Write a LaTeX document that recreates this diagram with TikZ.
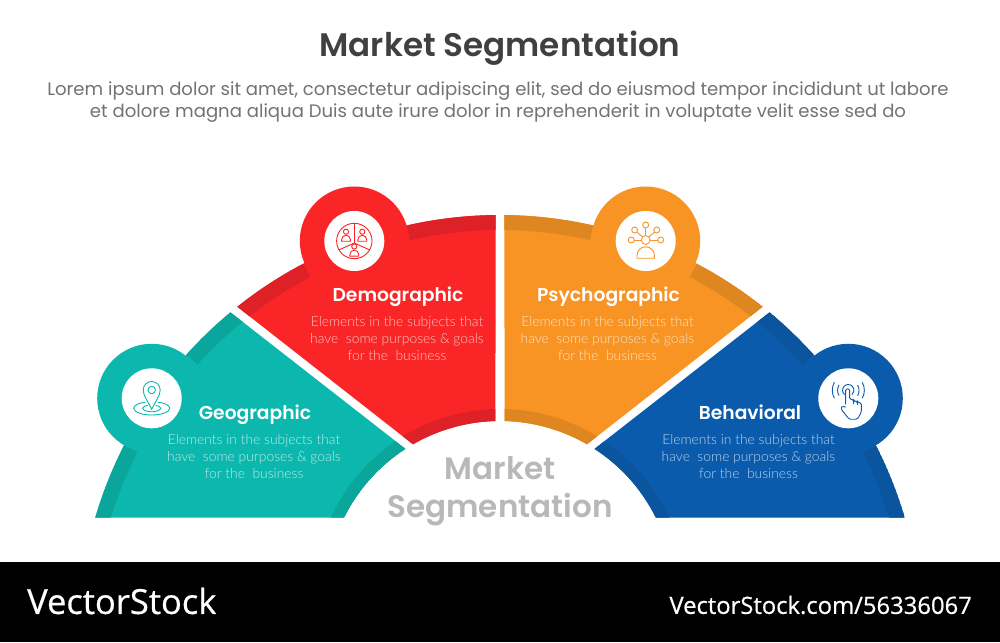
\documentclass[tikz,border=0pt]{standalone}
\usepackage{fontspec}
\usetikzlibrary{positioning, calc}
\setmainfont{Poppins}[BoldFont={Poppins SemiBold}]
\newfontfamily\latofont{Lato Light}
\newfontfamily\markfont{Open Sans}[FakeBold=0.6]
\definecolor{tealA}{HTML}{0CB8AD}
\definecolor{tealB}{HTML}{0AA69C}
\definecolor{redA}{HTML}{FA2526}
\definecolor{redB}{HTML}{DD2126}
\definecolor{orangeA}{HTML}{F79424}
\definecolor{orangeB}{HTML}{DE8620}
\definecolor{blueA}{HTML}{0A5BAC}
\definecolor{blueB}{HTML}{0A559E}
\newcommand{\sectorpath}[4]{($(O)+(#1:422pt)$) arc[start angle=#1, end angle=#2, radius=422pt] -- ($(I)+(#3:174pt)$) arc[start angle=#3, end angle=#4, radius=174pt] -- cycle}
\newcommand{\outerband}[3]{\draw[#1, line width=15pt] ($(O)+(#2:414.5pt)$) arc[start angle=#2, end angle=#3, radius=414.5pt];}
\newcommand{\innerband}[3]{\draw[#1, line width=12pt] ($(I)+(#2:180pt)$) arc[start angle=#2, end angle=#3, radius=180pt];}
\newcommand{\personicon}[2]{\draw[icon] (#1,#2) circle (2.6pt);
  \draw[icon] ($(#1,#2)+(-4.4,-9.6)$) -- ++(0,1.6) arc[start angle=180, end angle=0, radius=4.4pt] -- ++(0,-1.6) -- cycle;}

\begin{document}
\begin{tikzpicture}[
x=1pt, y=1pt,
title/.style={font=\fontsize{32.6}{36}\selectfont\bfseries, text=black!75},
lead/.style={font=\fontsize{18.08}{22}\selectfont, text=black!55, align=center},
hubtext/.style={font=\fontsize{31}{38}\selectfont\bfseries, text=black!28, align=center},
heading/.style={font=\fontsize{18.7}{22}\selectfont\bfseries, text=white, inner sep=0pt, anchor=base},
detail/.style={font=\fontsize{13.85}{17}\selectfont\latofont, text=white, text opacity=.72, align=center, inner sep=0pt},
icon/.style={line width=.9pt},
badge/.style={circle, minimum size=109pt, inner sep=0pt},
disc/.style={circle, fill=white, minimum size=60pt, inner sep=0pt},
node distance=17pt
]
\useasboundingbox (0,0) rectangle (1000,642);
\fill[white] (0,0) rectangle (1000,642);
\fill[black] (0,0) rectangle (1000,80);
\coordinate (O) at (500,5);
\coordinate (I) at (500,47);

%Sectors
\fill[tealA] \sectorpath{129.7}{163.55}{153.55}{122.9};
\begin{scope}
\clip \sectorpath{129.7}{163.55}{153.55}{122.9};
\outerband{tealB}{125}{138}
\outerband{tealB}{153}{170}
\innerband{tealB}{115}{160}
\end{scope}

\fill[redA] \sectorpath{90.6}{128.5}{120}{91.5};
\begin{scope}
\clip \sectorpath{90.6}{128.5}{120}{91.5};
\outerband{redB}{88}{102.8}
\outerband{redB}{117.8}{132}
\innerband{redB}{85}{125}
\end{scope}

\fill[orangeA] \sectorpath{89.4}{51.5}{60}{88.5};
\begin{scope}
\clip \sectorpath{89.4}{51.5}{60}{88.5};
\outerband{orangeB}{92}{77.2}
\outerband{orangeB}{62.2}{48}
\innerband{orangeB}{95}{55}
\end{scope}

\fill[blueA] \sectorpath{50.3}{16.45}{26.45}{57.1};
\begin{scope}
\clip \sectorpath{50.3}{16.45}{26.45}{57.1};
\outerband{blueB}{55}{42}
\outerband{blueB}{27}{10}
\innerband{blueB}{65}{20}
\end{scope}

%Badges
\node[badge, fill=tealA]   (GeoBadge)   at (151.7,243.7) {};
\node[badge, fill=redA]    (DemoBadge)  at (354.3,401)   {};
\node[badge, fill=orangeA] (PsychBadge) at (645.7,401)   {};
\node[badge, fill=blueA]   (BehavBadge) at (848.3,243.7) {};
\node[disc] (GeoDisc)   at (GeoBadge)   {};
\node[disc] (DemoDisc)  at (DemoBadge)  {};
\node[disc] (PsychDisc) at (PsychBadge) {};
\node[disc] (BehavDisc) at (BehavBadge) {};

%Icons
\begin{scope}[shift={(GeoDisc)}, tealA]
\draw[icon] (0,-11) .. controls (-3,-4) and (-8.5,2) .. (-8.5,8.3) arc[start angle=180, end angle=0, radius=8.5pt] .. controls (8.5,2) and (3,-4) .. (0,-11) -- cycle;
\draw[icon] (0,8.3) circle (3.7pt);
\draw[icon] (-6.2,-3.9) .. controls (-13,-4.6) and (-18,-7) .. (-18,-10) .. controls (-18,-14) and (-9,-16.7) .. (0,-16.7) .. controls (9,-16.7) and (18,-14) .. (18,-10) .. controls (18,-7) and (13,-4.6) .. (6.2,-3.9);
\draw[icon] (-4,-7) .. controls (-7,-7.6) and (-9,-8.6) .. (-9,-10) .. controls (-9,-12) and (-4,-13.5) .. (0,-13.5) .. controls (4,-13.5) and (9,-12) .. (9,-10) .. controls (9,-8.6) and (7,-7.6) .. (4,-7);
\end{scope}

\begin{scope}[shift={(DemoDisc)}, redA]
\draw[icon] (0,0) circle (17.7pt);
\draw[icon] (0,-2) -- (0,17.7);
\draw[icon] (0,-2) -- (-15.3,-8.9);
\draw[icon] (0,-2) -- (15.3,-8.9);
\personicon{-8.3}{9.3}
\personicon{8}{9.3}
\personicon{0}{-5.5}
\end{scope}

\begin{scope}[shift={(PsychDisc)}, orangeA]
\draw[icon] (0,1) circle (4.4pt);
\draw[icon] (0,16) circle (3pt);
\draw[icon] (-11,11) circle (3pt);
\draw[icon] (11,11) circle (3pt);
\draw[icon] (-14.5,1) circle (3pt);
\draw[icon] (15,1) circle (3pt);
\draw[icon] (0,13) -- (0,5.4);
\draw[icon] (-8.9,8.9) -- (-3.1,4.1);
\draw[icon] (8.9,8.9) -- (3.1,4.1);
\draw[icon] (-11.5,1) -- (-4.4,1);
\draw[icon] (12,1) -- (4.4,1);
\draw[icon] (-8.7,-17.3) -- (-8.7,-14.5) arc[start angle=180, end angle=0, radius=8.7pt] -- (8.7,-17.3) -- cycle;
\end{scope}

\begin{scope}[shift={(BehavDisc)}, blueA]
\draw[icon] (-3.7,3.7) arc[start angle=230, end angle=-50, radius=5.7pt];
\draw[icon] (-9.3,2.7) arc[start angle=210, end angle=150, radius=10.7pt];
\draw[icon] (9.3,13.3) arc[start angle=30, end angle=-30, radius=10.7pt];
\draw[icon] (-13.9,0) arc[start angle=210, end angle=150, radius=16pt];
\draw[icon] (13.9,16) arc[start angle=30, end angle=-30, radius=16pt];
\draw[icon, rounded corners=1.5pt] (-2.7,-6) -- (-2.7,9.5) -- (1.3,9.5) -- (1.3,-1) -- (5.5,-1.5) -- (5.5,-3) -- (9,-3) -- (9,-4.2) -- (13,-4.5) -- (13,-14) -- (9,-21) -- (1,-21) -- (-7.5,-10.5) -- (-6,-7.5) -- (-2.7,-9);
\draw[icon] (5.5,-3) -- (5.5,-6);
\draw[icon] (9,-4.2) -- (9,-7);
\end{scope}

%Texts
\node[title] (Title) at (500,594) {Market Segmentation};
\node[lead]  (Lead)  at (498,540) {Lorem ipsum dolor sit amet, consectetur adipiscing elit, sed do eiusmod tempor incididunt ut labore\\et dolore magna aliqua Duis aute irure dolor in reprehenderit in voluptate velit esse sed do};
\node[hubtext] (HubText) at (500,151) {Market\\Segmentation};

\node[heading] (GeoHead)   at (255,222)   {Geographic};
\node[heading] (DemoHead)  at (398,340)   {Demographic};
\node[heading] (PsychHead) at (608.5,340) {Psychographic};
\node[heading] (BehavHead) at (750,222)   {Behavioral};

\node[detail] (GeoText)   at (254,185)   {Elements in the subjects that\\have\ \ some purposes \& goals\\for the\ \ business};
\node[detail] (DemoText)  at (397,303)   {Elements in the subjects that\\have\ \ some purposes \& goals\\for the\ \ business};
\node[detail] (PsychText) at (607.5,303) {Elements in the subjects that\\have\ \ some purposes \& goals\\for the\ \ business};
\node[detail] (BehavText) at (748.5,185) {Elements in the subjects that\\have\ \ some purposes \& goals\\for the\ \ business};

\node[text=white, font=\fontsize{34.5}{38}\selectfont\markfont, anchor=west, inner sep=0pt] (StockName) at (27,41) {VectorStock};
\node[text=white, font=\fontsize{23.8}{28}\selectfont\markfont, anchor=east, inner sep=0pt] (StockLink) at (972,37) {VectorStock.com/56336067};
\end{tikzpicture}
\end{document}
